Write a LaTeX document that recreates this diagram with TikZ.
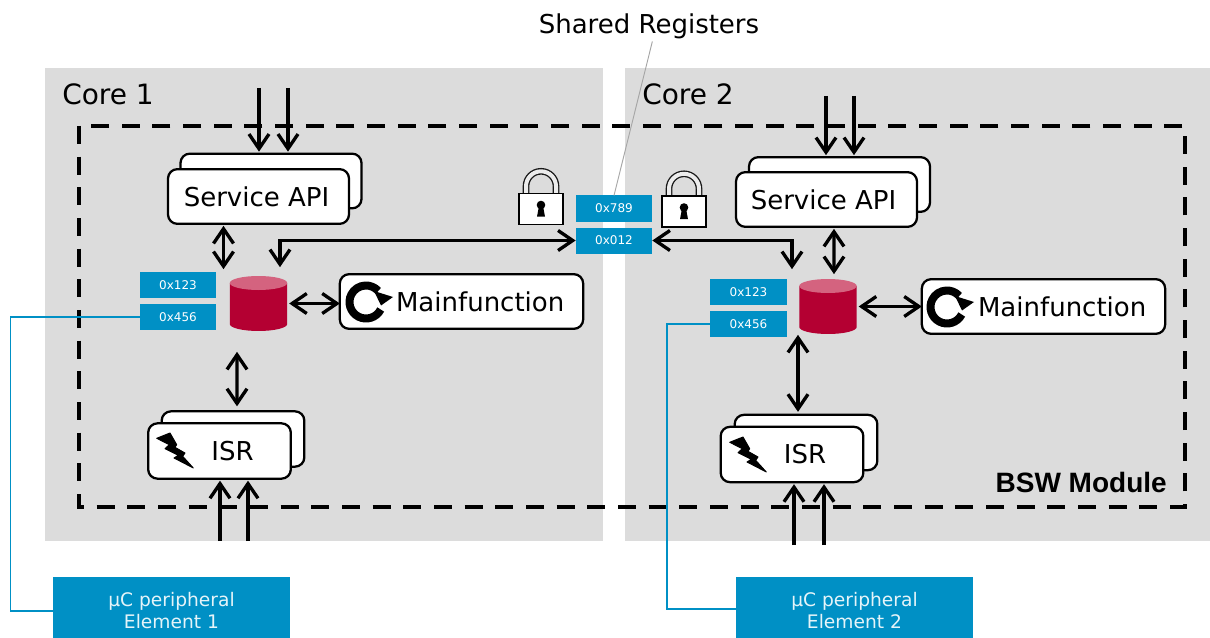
\documentclass[tikz,border=0pt]{standalone}
\usepackage{fontspec}
\setmainfont{DejaVu Sans}
\newfontfamily\labelfont{Liberation Sans}
\usetikzlibrary{arrows.meta}
\definecolor{coregray}{HTML}{DCDCDC}
\definecolor{regblue}{HTML}{0090C5}
\definecolor{dbred}{HTML}{B40032}
\definecolor{dbpink}{HTML}{D4637F}
\tikzset{
    corebox/.style={fill=coregray, draw=none, inner sep=0pt, outer sep=0pt, minimum height=354.75pt},
    blockbox/.style={draw=black, fill=white, line width=1.7pt, rounded corners=7pt, inner sep=0pt, outer sep=0pt, font=\fontsize{19.5}{23}\selectfont},
    apibox/.style={blockbox, minimum width=135.75pt, minimum height=41pt},
    mainbox/.style={blockbox, minimum width=182.5pt, minimum height=41pt},
    isrbox/.style={blockbox, minimum width=107pt, minimum height=41.5pt},
    regbox/.style={fill=regblue, text=white, inner sep=0pt, outer sep=0pt, minimum width=57.5pt, minimum height=19.5pt, font=\fontsize{9}{11}\selectfont},
    perbox/.style={fill=regblue, text=white!90!regblue, inner sep=0pt, outer sep=0pt, minimum width=178pt, minimum height=46pt, align=center, font=\fontsize{14}{16.5}\selectfont},
    dbnode/.style={inner sep=0pt, outer sep=0pt, minimum width=43pt, minimum height=41pt, path picture={
        \fill[dbred] (-28.75,-20.5) -- (-28.75,20.5) arc[start angle=180,delta angle=-180,x radius=28.75,y radius=7] -- (28.75,-20.5) -- cycle;
        \fill[dbpink] (0,-20.5) ellipse[x radius=28.75,y radius=7];
    }},
    corelabel/.style={anchor=west, inner sep=0pt, font=\fontsize{21}{25}\selectfont},
    dlink/.style={line width=2.5pt, {Straight Barb[length=11pt,width=15pt,line width=2.5pt]}-{Straight Barb[length=11pt,width=15pt,line width=2.5pt]}},
    slink/.style={line width=2.5pt, -{Straight Barb[length=11pt,width=15pt,line width=2.5pt]}, shorten >=1.5pt},
    wire/.style={draw=regblue, line width=1.1pt},
    pics/padlock/.style={code={
        \draw[line width=5pt, black!90] (-15,-15.5) -- (-15,-22.7) arc[start angle=180,end angle=360,radius=15] -- (15,-15.5);
        \draw[line width=3pt, white!85!gray] (-15,-15.5) -- (-15,-22.7) arc[start angle=180,end angle=360,radius=15] -- (15,-15.5);
        \draw[fill=white, line width=.9pt] (-22,-15.5) rectangle (22,15.5);
        \fill (0,-4) circle (4.3);
        \fill (-2,-3) -- (2,-3) -- (4,7.7) -- (-4,7.7) -- cycle;
    }},
    pics/refresh/.style={code={
        \draw[line width=6pt] (27:16.5) arc[start angle=27,end angle=318,radius=16.5];
        \fill (8,-11) -- (27,-5) -- (15,3.5) -- cycle;
    }},
    pics/bolt/.style={code={
        \filldraw[line width=.7pt, line join=round] (0.7,5.3) -- (14,0) -- (20.7,11.7) -- (19,14.3) -- (29,20) -- (26.7,23.3) -- (37.3,35) -- (18,25) -- (22.3,22.3) -- (9,15.7) -- (13.3,11.7) -- cycle;
    }}
}
\begin{document}
\begin{tikzpicture}[x=.75pt,y=-.75pt]
    \useasboundingbox (0,0) rectangle (1210,638);

    % cores
    \node[corebox, minimum width=418.5pt] (core1) at (324,304.5) {};
    \node[corebox, minimum width=438.75pt] (core2) at (917.5,304.5) {};
    \node[corelabel] (core1name) at (62,94.5) {Core 1};
    \node[corelabel] (core2name) at (642,94.5) {Core 2};
    \draw[line width=2.8pt, dash pattern=on 13.5pt off 9.5pt] (79,126) rectangle (1185,507);
    \node[anchor=east, inner sep=0pt, font=\labelfont\bfseries\fontsize{21}{25}\selectfont] (bsw) at (1167,482) {BSW Module};

    % left side
    \node[apibox] (api1back) at (271,181) {};
    \node[apibox] (api1) at (258.5,196.5) {Service API\hspace*{3pt}};
    \node[mainbox] (main1) at (461.5,301.5) {\hspace*{28pt}Mainfunction};
    \node[dbnode] (db1) at (258.5,303.5) {};
    \node[regbox] (reg123a) at (178,285) {0x123};
    \node[regbox] (reg456a) at (178,317) {0x456};
    \node[isrbox] (isr1back) at (233,439) {};
    \node[isrbox] (isr1) at (219.5,451) {\hspace*{19.5pt}ISR};
    \pic at (366,302) {refresh};
    \pic at (156,433) {bolt};

    % right side
    \node[apibox] (api2back) at (839.5,184.5) {};
    \node[apibox] (api2) at (826.5,199.5) {Service API\hspace*{4.5pt}};
    \node[mainbox] (main2) at (1043.5,306.5) {\hspace*{28pt}Mainfunction};
    \node[dbnode] (db2) at (828,306.5) {};
    \node[regbox] (reg123b) at (748.5,292) {0x123};
    \node[regbox] (reg456b) at (748.5,324) {0x456};
    \node[isrbox] (isr2back) at (806,442.5) {};
    \node[isrbox] (isr2) at (792,454.5) {\hspace*{19.5pt}ISR};
    \pic at (947,307) {refresh};
    \pic at (729,437) {bolt};

    % shared registers
    \node[regbox] (reg789) at (614,208.5) {0x789};
    \node[regbox] (reg012) at (614,240.5) {0x012};
    \pic at (541,209) {padlock};
    \pic at (684,211.5) {padlock};
    \node[inner sep=0pt, font=\fontsize{19.5}{23}\selectfont] (shared) at (649,26) {Shared Registers};
    \draw[gray!70, line width=.7pt] ([xshift=2.5pt,yshift=-2pt]shared.south) -- (reg789.north);

    % peripherals
    \node[perbox] (per1) at (171.5,607.5) {\rule{0pt}{15.5pt}µC peripheral\\Element 1};
    \node[perbox] (per2) at (854.5,607.5) {\rule{0pt}{15.5pt}µC peripheral\\Element 2};
    \draw[wire] (reg456a.west) -- ++(-129,0) |- ([yshift=-2.6pt]per1.west);
    \draw[wire] (reg456b.west) -- ++(-43,0) |- ([yshift=-1.1pt]per2.west);

    % free ends of the arrows
    \coordinate (in1a) at (259,88);
    \coordinate (in1b) at (288,88);
    \coordinate (in2a) at (826,96);
    \coordinate (in2b) at (854,96);
    \coordinate (irq1a) at (220,541);
    \coordinate (irq1b) at (248,541);
    \coordinate (irq2a) at (794,545);
    \coordinate (irq2b) at (824,545);

    % arrows
    \draw[slink] (in1a) -- (in1a |- api1back.north);
    \draw[slink] (in1b) -- (in1b |- api1back.north);
    \draw[slink] (in2a) -- (in2a |- api2back.north);
    \draw[slink] (in2b) -- (in2b |- api2back.north);
    \draw[slink] (irq1a) -- (irq1a |- isr1.south);
    \draw[slink] (irq1b) -- (irq1b |- isr1.south);
    \draw[slink] (irq2a) -- (irq2a |- isr2.south);
    \draw[slink] (irq2b) -- (irq2b |- isr2.south);
    \draw[dlink, shorten <=1.5pt, shorten >=5.25pt] ([xshift=-26.25pt]api1.south) -- ([xshift=-26.25pt]db1.north);
    \draw[dlink, shorten <=1.5pt, shorten >=3.75pt] ([xshift=5.6pt]api2.south) -- ([xshift=4.5pt]db2.north);
    \draw[dlink, shorten <=15.75pt, shorten >=3.75pt] ([xshift=-16.1pt]db1.south) -- ([xshift=3pt]isr1back.north);
    \draw[dlink, shorten <=.75pt, shorten >=2.25pt] ([xshift=-22.5pt]db2.south) -- ([xshift=-6pt]isr2back.north);
    \draw[dlink, shorten <=1.5pt] (db1.east) -- (db1.east -| main1.west);
    \draw[dlink, shorten <=1.5pt] (db2.east) -- (db2.east -| main2.west);
    \draw[dlink] ([xshift=16.1pt,yshift=6.75pt]db1.north) |- (reg012.west);
    \draw[dlink] (reg012.east) -| ([xshift=-27pt,yshift=7.5pt]db2.north);
\end{tikzpicture}
\end{document}
